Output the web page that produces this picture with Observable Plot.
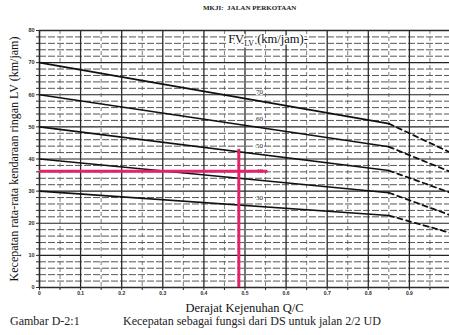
<!DOCTYPE html>
<html>
<head>
<meta charset="utf-8">
<script src="https://cdn.jsdelivr.net/npm/d3@7"></script>
<script src="https://cdn.jsdelivr.net/npm/@observablehq/plot@0.6"></script>
<style>
  body { margin: 0; background: #fff; }
  #wrap { position: relative; width: 449px; height: 335px; font-family: "Liberation Serif", "DejaVu Serif", serif; color: #222; overflow: hidden; }
  #wrap svg { position: absolute; left: 0; top: 0; }
  .hdr { position: absolute; left: 203px; top: 4px; font-size: 7px; font-weight: bold; white-space: nowrap; }
  .cap1 { position: absolute; left: 10px; top: 314px; font-size: 12px; white-space: nowrap; }
  .cap2 { position: absolute; left: 123px; top: 314px; font-size: 12px; white-space: nowrap; }
</style>
</head>
<body>
<div id="wrap">
  <div class="hdr">MKJI:&nbsp; JALAN PERKOTAAN</div>
  <div class="cap1">Gambar D-2:1</div>
  <div class="cap2">Kecepatan sebagai fungsi dari DS untuk jalan 2/2 UD</div>
</div>
<script>
// ---- data ----
const fvSeries    = [70, 60, 50, 40, 30];        // FV_LV curves (km/jam)
const startValues = [70, 60, 50, 40, 30];        // speed at DS = 0
const breakValues = [51, 43.8, 36.4, 29.5, 22.4];// speed at DS = 0.85 (end of solid part)
const endValues   = [42, 36, 29.5, 22.5, 17];    // speed at DS = 1.0 (end of dashed part)
const dsStart = 0, dsBreak = 0.85, dsEnd = 1.0;

const xTickLabels = [0, 0.1, 0.2, 0.3, 0.4, 0.5, 0.6, 0.7, 0.8, 0.9];
const yTickLabels = [0, 10, 20, 30, 40, 50, 60, 70, 80];

// reading guide (pink lines)
const readDS = 0.485;       // vertical line at DS
const readDSTop = 43;       // vertical line top (km/jam)
const readSpeed = 36.2;     // horizontal line speed
const readSpeedEnd = 0.556; // horizontal line right end (DS)

const curveLabelDS = 0.535;
const titleText = "FV";
const titleSub = "LV";
const titleRest = " (km/jam)-";
const titlePos = {ds: 0.459, v: 77.5};

const xLabel = "Derajat Kejenuhan Q/C";
const yLabel = "Kecepatan rata-rata kendaraan ringan LV (km/jam)";

// ---- tables ----
const solid = fvSeries.flatMap((fv, i) => [
  {fv, ds: dsStart, v: startValues[i]},
  {fv, ds: dsBreak, v: breakValues[i]}
]);
const dashed = fvSeries.flatMap((fv, i) => [
  {fv, ds: dsBreak, v: breakValues[i]},
  {fv, ds: dsEnd, v: endValues[i]}
]);
const curveLabels = fvSeries.map((fv, i) => ({
  fv,
  ds: curveLabelDS,
  v: startValues[i] + (breakValues[i] - startValues[i]) * (curveLabelDS - dsStart) / (dsBreak - dsStart)
}));

const pink = "#e5226c";
const ink = "#2a2a2a";
const serif = "Liberation Serif";

const plot = Plot.plot({
  width: 449,
  height: 335,
  marginLeft: 39,
  marginRight: 0,
  marginTop: 30,
  marginBottom: 48,
  style: {background: "transparent", fontFamily: serif, color: ink},
  x: {domain: [0, 0.9976]},
  y: {domain: [0, 80]},
  marks: [
    // minor horizontal grid every 2
    Plot.ruleY(d3.range(2, 80, 2).filter(v => v % 10 !== 0), {stroke: "#3a3a3a", strokeWidth: 1, strokeDasharray: "7,2", strokeOpacity: 0.85}),
    // major horizontal grid every 10
    Plot.ruleY(d3.range(10, 80, 10), {stroke: "#222", strokeWidth: 1.2}),
    // minor vertical grid
    Plot.ruleX(d3.range(0.05, 1.0, 0.1), {stroke: "#555", strokeWidth: 0.9, strokeDasharray: "4,3", strokeOpacity: 0.85}),
    // major vertical grid
    Plot.ruleX(xTickLabels.slice(1), {stroke: "#2a2a2a", strokeWidth: 1.3}),
    // frame
    Plot.ruleX([0], {stroke: ink, strokeWidth: 1.6}),
    Plot.ruleY([0, 80], {stroke: ink, strokeWidth: 1.6}),
    // curves
    Plot.line(solid, {x: "ds", y: "v", z: "fv", stroke: "#111", strokeWidth: 1.6}),
    Plot.line(dashed, {x: "ds", y: "v", z: "fv", stroke: "#111", strokeWidth: 1.8, strokeDasharray: "5,4"}),
    Plot.text(curveLabels, {x: "ds", y: "v", text: d => String(d.fv), dy: -9, fontSize: 7, fill: "#222", stroke: "white", strokeWidth: 2, paintOrder: "stroke"}),
    // title inside plot
    Plot.text([titlePos], {x: "ds", y: "v", text: () => titleText, textAnchor: "start", fontSize: 12.5, fill: "#111", stroke: "white", strokeWidth: 3, paintOrder: "stroke"}),
    // pink reading guide
    Plot.ruleY([readSpeed], {x1: 0, x2: readSpeedEnd, stroke: pink, strokeWidth: 3}),
    Plot.ruleX([readDS], {y1: 0, y2: readDSTop, stroke: pink, strokeWidth: 3}),
    // axes
    Plot.axisY(d3.range(0, 81, 2), {tickSize: 3, tickPadding: 2, fontSize: 5.5, fontWeight: "bold", fontFamily: "Liberation Sans",
      tickFormat: d => (d % 10 === 0 && yTickLabels.includes(d)) ? String(d) : "", label: null, stroke: ink}),
    Plot.axisX(d3.range(0, 0.96, 0.05).map(d => +d.toFixed(2)), {tickSize: 3, tickPadding: 1, fontSize: 5, fontWeight: "bold", fontFamily: "Liberation Sans",
      tickFormat: d => xTickLabels.includes(d) ? (d === 0 ? "0" : d.toFixed(1)) : "", label: null, stroke: ink}),
    // axis labels
    Plot.text([xLabel], {frameAnchor: "bottom", text: d => d, dy: 20, lineAnchor: "middle", fontSize: 12.5, fill: "#111"}),
    Plot.text([yLabel], {frameAnchor: "left", text: d => d, dx: -25, rotate: -90, textAnchor: "middle", lineAnchor: "middle", fontSize: 12, fill: "#111"})
  ]
});

// subscript for the FV_LV title
d3.select(plot).selectAll("text").filter(function() { return this.textContent === titleText; })
  .each(function() {
    const t = d3.select(this);
    t.text(null);
    t.append("tspan").text(titleText);
    t.append("tspan").attr("font-size", 8).attr("dy", 3).text(titleSub);
    t.append("tspan").attr("dy", -3).text(titleRest);
  });

document.getElementById("wrap").prepend(plot);
</script>
</body>
</html>
